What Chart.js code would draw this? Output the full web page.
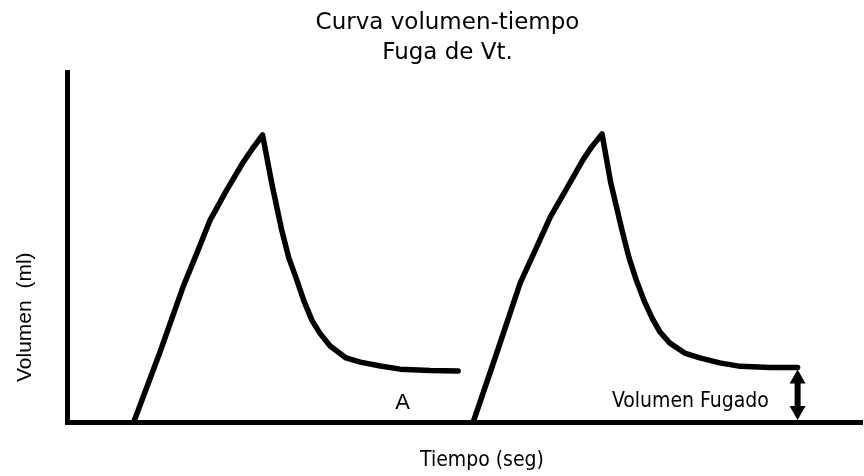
<!DOCTYPE html>
<html>
<head>
<meta charset="utf-8">
<title>Curva volumen-tiempo</title>
<script src="https://cdn.jsdelivr.net/npm/chart.js@4.4.1/dist/chart.umd.min.js"></script>
<style>
  body { margin: 0; background: #fff; }
  canvas { display: block; }
</style>
</head>
<body>
<canvas id="chartVolumen" width="864" height="476"></canvas>
<script>
// ciclo 1 (tiempo en seg, volumen en ml, unidades relativas)
var tiempo1 = [0.84, 1.17, 1.46, 1.64, 1.80, 2.01, 2.21, 2.33, 2.46,
               2.58, 2.70, 2.79, 2.89, 2.98, 3.08, 3.18, 3.31, 3.51,
               3.69, 3.94, 4.19, 4.57, 4.92];
var volumen1 = [0, 20.0, 38.6, 48.6, 57.7, 66.3, 74.0, 78.0, 82.0,
                67.7, 54.9, 46.9, 40.6, 34.6, 29.1, 25.4, 21.7, 18.3,
                17.1, 16.0, 15.1, 14.7, 14.6];

// ciclo 2
var tiempo2 = [5.11, 5.41, 5.70, 5.89, 6.08, 6.29, 6.49, 6.60, 6.73,
               6.84, 6.98, 7.07, 7.16, 7.26, 7.36, 7.46, 7.58, 7.77,
               7.96, 8.21, 8.47, 8.84, 9.19];
var volumen2 = [0, 20.0, 39.7, 49.1, 58.6, 66.9, 74.9, 78.6, 82.3,
                68.3, 54.9, 46.9, 40.6, 34.6, 29.7, 25.7, 22.6, 19.7,
                18.3, 16.9, 15.9, 15.6, 15.6];

var titulo = ['Curva volumen-tiempo', 'Fuga de Vt.'];
var etiquetaX = 'Tiempo (seg)';
var etiquetaY = 'Volumen  (ml)';
var etiquetaA = 'A';
var etiquetaFuga = 'Volumen Fugado';

function toPoints(xs, ys) {
  var pts = [];
  for (var i = 0; i < xs.length; i++) {
    pts.push({x: xs[i], y: ys[i]});
  }
  return pts;
}

// textos y flecha del volumen fugado
var textosPlugin = {
  id: 'textos',
  afterDraw: function(chart) {
    var ctx = chart.ctx;
    var xs = chart.scales.x, ys = chart.scales.y;
    ctx.save();
    ctx.fillStyle = '#000';

    ctx.font = '23px "DejaVu Sans"';
    ctx.textAlign = 'center';
    ctx.textBaseline = 'alphabetic';
    ctx.fillText(titulo[0], 447.5, 29);
    ctx.fillText(titulo[1], 447.5, 59);

    ctx.font = '21px "DejaVu Sans Condensed"';
    ctx.textAlign = 'left';
    ctx.fillText(etiquetaX, 420, 466);
    ctx.fillText(etiquetaFuga, 612, 407);

    ctx.font = '22px "Liberation Sans"';
    ctx.textAlign = 'center';
    ctx.fillText(etiquetaA, 402.5, 409);

    ctx.save();
    ctx.translate(31, 382);
    ctx.rotate(-Math.PI / 2);
    ctx.font = '21px "Liberation Sans"';
    ctx.textAlign = 'left';
    ctx.fillText(etiquetaY, 0, 0);
    ctx.restore();

    // flecha doble
    var last = tiempo2.length - 1;
    var ax = xs.getPixelForValue(tiempo2[last]);
    var yTop = ys.getPixelForValue(volumen2[last]) + 2;
    var yBot = ys.getPixelForValue(0) - 2;
    ctx.strokeStyle = '#000';
    ctx.lineWidth = 6;
    ctx.beginPath();
    ctx.moveTo(ax, yTop + 10);
    ctx.lineTo(ax, yBot - 10);
    ctx.stroke();
    ctx.beginPath();
    ctx.moveTo(ax, yTop);
    ctx.lineTo(ax - 8, yTop + 14);
    ctx.lineTo(ax + 8, yTop + 14);
    ctx.closePath();
    ctx.fill();
    ctx.beginPath();
    ctx.moveTo(ax, yBot);
    ctx.lineTo(ax - 8, yBot - 14);
    ctx.lineTo(ax + 8, yBot - 14);
    ctx.closePath();
    ctx.fill();
    ctx.restore();
  }
};

var ctx = document.getElementById('chartVolumen').getContext('2d');
var chart = new Chart(ctx, {
  type: 'scatter',
  data: {
    datasets: [
      {
        label: 'Ciclo 1',
        data: toPoints(tiempo1, volumen1),
        showLine: true,
        borderColor: '#000',
        borderWidth: 5.5,
        pointRadius: 0,
        tension: 0,
        borderCapStyle: 'round',
        borderJoinStyle: 'round'
      },
      {
        label: 'Ciclo 2',
        data: toPoints(tiempo2, volumen2),
        showLine: true,
        borderColor: '#000',
        borderWidth: 5.5,
        pointRadius: 0,
        tension: 0,
        borderCapStyle: 'round',
        borderJoinStyle: 'round'
      }
    ]
  },
  options: {
    responsive: false,
    animation: false,
    layout: {
      padding: {left: 67, top: 72, right: 2, bottom: 54}
    },
    plugins: {
      legend: { display: false },
      tooltip: { enabled: false }
    },
    scales: {
      x: {
        type: 'linear',
        min: 0,
        max: 10,
        grid: { display: false, drawTicks: false, tickLength: 0 },
        ticks: { display: false, padding: 0 },
        border: { display: true, color: '#000', width: 5 }
      },
      y: {
        min: 0,
        max: 100,
        grid: { display: false, drawTicks: false, tickLength: 0 },
        ticks: { display: false, padding: 0 },
        border: { display: true, color: '#000', width: 5 }
      }
    }
  },
  plugins: [textosPlugin]
});
</script>
</body>
</html>
